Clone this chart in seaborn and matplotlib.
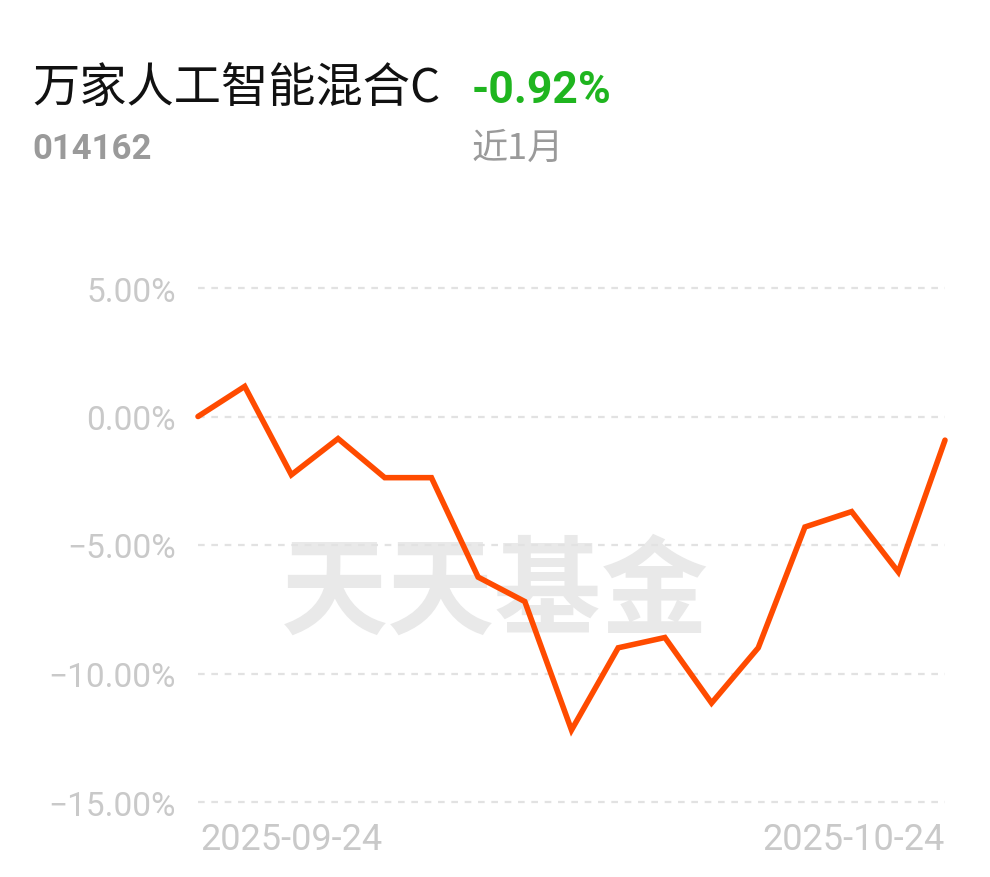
import pandas as pd
import matplotlib.pyplot as plt
import seaborn as sns

sns.set_theme(style="white")
plt.rcParams['font.family'] = ['Noto Sans CJK SC', 'DejaVu Sans']

# trading days in the last month
dates = ['2025-09-24', '2025-09-25', '2025-09-26', '2025-09-29', '2025-09-30',
         '2025-10-09', '2025-10-10', '2025-10-13', '2025-10-14', '2025-10-15',
         '2025-10-16', '2025-10-17', '2025-10-20', '2025-10-21', '2025-10-22',
         '2025-10-23', '2025-10-24']
returns = [0.00, 1.17, -2.27, -0.86, -2.38, -2.38, -6.25, -7.20, -12.20, -9.00,
           -8.60, -11.15, -9.00, -4.30, -3.70, -6.05, -0.92]
y_ticks = [5, 0, -5, -10, -15]

fund_name = '万家人工智能混合C'
fund_code = '014162'
period_label = '近1月'
period_return = '-0.92%'

df = pd.DataFrame({'day': range(len(dates)), 'date': dates, 'ret': returns})

fig = plt.figure(figsize=(9.9, 8.78), dpi=100)
ax = fig.add_axes([198 / 990, 1 - 803 / 878, (945 - 198) / 990, (803 - 289) / 878])

# watermark
ax.text(0.398, 0.405, '天天基金', transform=ax.transAxes, ha='center', va='center',
        fontsize=77, fontweight='bold', color='#e9e9e9', zorder=0)

for t in y_ticks:
    ax.axhline(t, color='#e2e2e2', lw=1.6, ls=(0, (3, 3)), zorder=1, clip_on=False)

sns.lineplot(data=df, x='day', y='ret', color='#ff4b00', lw=4.0, ax=ax, zorder=3,
             clip_on=False, solid_joinstyle='miter', solid_capstyle='round')

ax.set_xlim(0, len(dates) - 1)
ax.set_ylim(-15, 5)
ax.set_yticks(y_ticks)
ax.set_yticklabels([f'{t:.2f}%'.replace('-', '\u2212') for t in y_ticks],
                   fontsize=24, color='#c9c9c9', family=['Roboto', 'DejaVu Sans'])
ax.tick_params(axis='y', length=0, pad=16)
ax.set_xticks([])
ax.set_xlabel('')
ax.set_ylabel('')
for s in ax.spines.values():
    s.set_visible(False)

num_font = ['Roboto', 'DejaVu Sans']
ax.text(0.003, -0.072, dates[0], transform=ax.transAxes, ha='left', va='center',
        fontsize=26, color='#c9c9c9', family=num_font)
ax.text(1.0, -0.072, dates[-1], transform=ax.transAxes, ha='right', va='center',
        fontsize=26, color='#c9c9c9', family=num_font)

# header
fig.text(32 / 990, 1 - 103 / 878, fund_name, ha='left', va='baseline',
         fontsize=34, color='#111111')
fig.text(472 / 990, 1 - 103 / 878, period_return, ha='left', va='baseline',
         fontsize=32, fontweight='bold', color='#1fb51f', family=num_font)
fig.text(32 / 990, 1 - 159 / 878, fund_code, ha='left', va='baseline',
         fontsize=25, fontweight='bold', color='#9a9a9a', family=num_font)
fig.text(472 / 990, 1 - 159 / 878, period_label, ha='left', va='baseline',
         fontsize=26, color='#9a9a9a')

fig.savefig('out.png', dpi=100)
